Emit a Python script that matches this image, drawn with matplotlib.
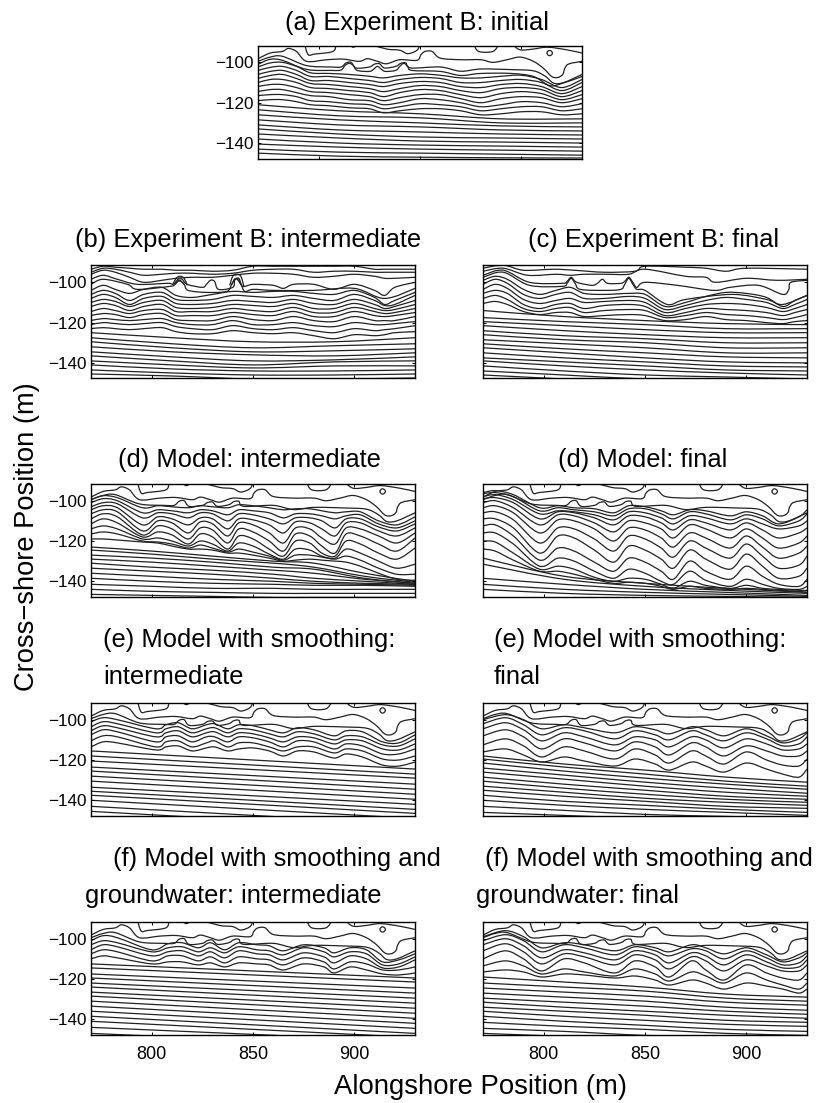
import matplotlib
matplotlib.use('Agg')
import matplotlib.pyplot as plt
from matplotlib.path import Path
from matplotlib.patches import PathPatch

plt.rcParams['font.family'] = ['Liberation Sans', 'DejaVu Sans']

W, H = 819, 1103

# ---- shared nearshore contours (same in a, d, e, f) ----
COAST_X = [770,776,782,785,789,794,804,812,820,824,829,833.5,840,848.5,850.5,852.5,856,860,870,880,886,893,899.5,906,911,915,918,920.5,921.5,923.5,930]
COAST_Y = [-98.2,-95.4,-94.6,-93.1,-94.6,-99.5,-98.7,-98.4,-99.5,-98.2,-99.5,-100.7,-98.7,-99,-96.2,-94.6,-94.6,-97.9,-98.7,-98.7,-100,-98.7,-97.4,-99.5,-103,-107,-107.5,-106,-103,-100.8,-99.5]
L2_X = [770,776,782,794,806,811,813.5,816,818.5,825,827.5,830,832.5,838,840.5,843,845.5,860,870,880,895,906,912,916,921,930]
L2_Y = [-99.5,-97.4,-97,-101.6,-102.3,-102.3,-100.3,-100,-102.8,-102.3,-100.9,-100.7,-102.8,-102,-100.5,-100.3,-102.8,-102.3,-104.4,-103.3,-103.6,-104.2,-107,-110.3,-110,-106]
TOP1_X = [793,794.8,798,807,808.5]
TOP1_Y = [-91,-96.2,-95.9,-94.6,-91]
TOP2_X = [825,833.5,840,844,848.5,850]
TOP2_Y = [-91,-93.4,-94,-95.7,-94,-91]
TOP3_X = [876.5,879,886,889]
TOP3_Y = [-91,-94.6,-94.6,-91]
TOP4_X = [895.5,899.5,906,913,922.5,930]
TOP4_Y = [-91,-93.8,-93.4,-92.5,-93.8,-95.4]
TOP5_X = [815,817,820]
TOP5_Y = [-91,-92.5,-91]
RING_X = [912.6,913.1,914,914.9,915.4,914.9,914,913.1,912.6]
RING_Y = [-95.4,-94.5,-94.1,-94.5,-95.4,-96.3,-96.7,-96.3,-95.4]

LOW5_X = [770,810,850,890,930]
ENDS_X = [770,930]

# ---- (a) ----
A3_X = [770,776,782,794,806,811,813,815,817,819,825,827,829,831,833,838,840,842,844,846,860,870,880,895,906,914,920,930]
A3_Y = [-101,-98.5,-99,-103.5,-104,-103.8,-101.5,-100.5,-101.5,-104,-104.5,-103.5,-102,-103.5,-104.5,-104,-102,-100.5,-102,-104,-104.5,-106.5,-105.5,-105.5,-107,-111.5,-110.5,-107]
A_X = [770,776,782,789,796,805,815,825,832,840,850,860,870,880,890,900,910,920,930]
A_WAVE = [
    [-102.3,-100.3,-100,-102,-105.2,-105.5,-106,-106.9,-107.7,-106.5,-105.7,-106.4,-107.7,-107.7,-106.9,-106.4,-108.5,-112.5,-108.5],
    [-104,-102.5,-102,-104,-107,-107,-108,-109,-110,-108.5,-107.5,-108,-110,-110,-109,-108.5,-110,-114,-110],
    [-106,-104.5,-104,-106,-109,-109,-110,-111,-112,-110.5,-109.5,-110,-112,-112.5,-111,-110.5,-112,-115.5,-112],
    [-108,-106.5,-106,-108,-110.5,-111,-112,-113,-114.5,-113,-111.5,-112,-114,-115,-113,-112.5,-113.5,-117,-114],
    [-110,-108.5,-108.5,-110,-112.5,-113,-114,-115,-117,-115,-113.5,-114,-116,-117.5,-115.5,-114.5,-115.5,-118.5,-116],
    [-112,-111,-111,-112.5,-114.5,-115,-116,-117,-119,-117.5,-116,-116,-118,-120,-118,-117,-117.5,-120,-118],
    [-114.5,-113.5,-113.5,-115,-116.5,-117,-118.5,-119,-121,-120,-118,-118.5,-120,-122,-121,-119.5,-120,-122,-120.5],
    [-116.5,-116,-116,-117,-119,-119.5,-120.5,-121,-123,-122,-120.5,-121,-122,-124,-123,-122,-122,-124,-123],
    [-119,-118.5,-118.5,-119.5,-121,-121.5,-122.5,-123,-125,-124,-123,-123,-124,-126,-125.5,-124.5,-124.5,-126,-125.5],
]
A_LOW = [
    [-121,-124,-125.5,-128,-128], [-123.5,-126.5,-127.5,-130,-130], [-126,-128.5,-130,-131.5,-132],
    [-128.5,-131,-132,-133.5,-134], [-131,-133.5,-134.5,-135.5,-136], [-133,-135.5,-137,-137.5,-138],
    [-135.5,-137.5,-139,-139.5,-140], [-138,-140,-141,-141.5,-142], [-140.5,-142,-143,-143.5,-144],
    [-143,-144.5,-145,-145.5,-146], [-145,-146.5,-147,-147.3,-147.4],
]

# ---- (b) intermediate ----
B_X = [770,776,782,789,796,805,812,820,830,840,850,860,870,880,890,900,910,915,920,930]
B_WAVE = [
    [-93.5,-92,-92.5,-93,-93.5,-93.5,-94,-94,-94.5,-94,-92,-92,-92,-92,-92,-92,-93.5,-93.5,-93.5,-93.5],
    [-95,-93,-93.5,-95,-96.5,-96,-95.5,-95.5,-96,-95.5,-94,-93.5,-93.5,-95,-94.5,-94.5,-95,-95,-95,-95],
    [-96,-94,-95,-97.5,-100,-99,-98,-97.5,-97.5,-96.5,-95.5,-95.5,-96,-97.5,-97,-96,-97,-98,-98,-97.5],
    [-104,-101.5,-103.5,-105.5,-103.5,-102.5,-106.5,-107.5,-106,-104.5,-105,-104.5,-104.5,-105.5,-106,-104,-107.5,-111,-109,-105],
    [-106,-104,-105.5,-109,-106,-105,-108.5,-109,-108.5,-106.5,-107,-107.5,-106.5,-108,-109,-106,-109,-111.5,-111,-106.5],
    [-108,-106,-107.5,-111,-108,-107,-110.5,-111,-110.5,-109,-109.5,-110,-108.5,-110.5,-111,-108.5,-111,-113,-112,-109],
    [-110,-108.5,-109.5,-112,-110,-109,-112.5,-113,-112.5,-111,-111.5,-112,-110.5,-113,-113,-110.5,-113,-114,-113.5,-111],
    [-112,-110.5,-111.5,-114,-112,-111,-114.5,-114.5,-114.5,-113,-114,-114.5,-112.5,-115,-115,-112.5,-114.5,-115.5,-115,-113],
    [-114.5,-113,-114,-115.5,-114,-113.5,-116.5,-116.5,-116.5,-115,-116,-116.5,-114.5,-117,-117,-114.5,-116.5,-117,-116.5,-115],
    [-116.5,-115.5,-116,-117.5,-116,-115.5,-118.5,-119,-119,-117,-118.5,-119,-117,-119,-119.5,-117,-119,-119,-119,-117],
    [-119,-118,-118.5,-119,-118.5,-118,-120,-121,-121,-119,-121,-121,-120,-121.5,-122,-120,-121,-121,-120.5,-119.5],
    [-121,-120,-120.5,-121,-120.5,-120,-122,-123,-123.5,-121.5,-123,-123.5,-122.5,-124,-125,-123,-124,-123.5,-123,-121.5],
    [-123,-122.5,-123,-123.5,-123,-122.5,-124.5,-125.5,-125.5,-124,-125,-125.5,-125,-126.5,-128,-126,-126.5,-126,-125,-124.5],
]
B_LOW = [
    [-125,-127.5,-129.5,-129.5,-127.5], [-127.5,-130.5,-132.5,-131.5,-130.5], [-129.5,-132.5,-134.5,-134,-133],
    [-132,-134.5,-136,-136.5,-135], [-134.5,-137,-139,-138.5,-137], [-136.5,-139,-141,-139.5,-139],
    [-139,-141,-142.5,-141.5,-141.5], [-141,-143,-144,-144,-143.5], [-143.5,-145,-146,-146,-145.5],
    [-145.5,-146.5,-148,-148,-147.5],
]
B1_X = [770,776,783,793,808,810.5,813,815,817.5,825,827,829,831,833,840,841,843,845,850,860,865,870,880,890,900,910,915,920,930]
B1_Y = [-98.5,-96.5,-98.5,-101,-100.5,-101,-98.5,-98.5,-101,-102.5,-101,-99,-99.5,-103.5,-102.5,-99,-98,-102,-101,-101.5,-103,-101,-101,-103.5,-101,-104,-106.5,-102.5,-100]
B2_X = [770,776,788,793,809,811.5,813.5,816,818,827,837,839.5,841.5,844,846,850,860,880,900,915,930]
B2_Y = [-101,-98.5,-101,-103.5,-102,-101,-99,-101,-104,-105,-104.5,-101,-98,-101,-104.5,-103.5,-104,-104,-103,-108,-103]
B_ARCH_X = [[810.5,812,814,816,817.5], [811.5,813,814.5,816], [838.5,840,842,844,845.5], [839.5,841,842.5,844]]
B_ARCH_Y = [[-101,-98,-97,-98,-101.5], [-101,-99.5,-99.5,-101], [-101.5,-97,-96,-97,-102], [-101,-98.5,-98.5,-101]]

# ---- (c) final ----
C_X = [770,776,782,790,798,806,813,820,830,842,850,860,870,880,890,900,910,918,924,930]
C_WAVE = [
    [-99,-97,-98.5,-103.5,-106,-104,-102.5,-105.5,-106,-105.5,-106,-112,-110,-107,-105,-105.5,-107.5,-112,-109,-106.5],
    [-101,-98.5,-100.5,-106,-108,-106,-105,-108,-108,-107,-108,-113.5,-111.5,-109,-107.5,-108.5,-110,-113,-111,-108.5],
    [-103.5,-101,-103,-108.5,-110.5,-109,-108,-110,-109.5,-109,-110,-115,-113,-111,-110.5,-111,-112.5,-114.5,-113,-111],
    [-105.5,-104,-105.5,-111,-113,-111,-110.5,-113,-111.5,-111,-112,-116.5,-115,-113,-113.5,-114,-115,-116.5,-115,-113.5],
    [-108,-106.5,-108.5,-113,-114.5,-113,-112.5,-115,-114,-113.5,-114,-117.5,-116.5,-115,-116,-116.5,-117.5,-118.5,-117.5,-116],
    [-110.5,-109.5,-111,-114.5,-116,-115,-115,-117,-116.5,-116,-116.5,-119,-118.5,-117,-118.5,-119,-120,-120.5,-119.5,-119],
]
C_LOW = [
    [-114,-117,-119,-120.5,-121], [-117.5,-119.5,-121,-123,-123], [-119.5,-121.5,-123.5,-125,-125],
    [-121.5,-124,-126,-127.5,-127.5], [-124,-126.5,-128,-130,-130], [-126,-128.5,-130,-132.5,-132.5],
    [-128.5,-130.5,-132.5,-135,-135], [-130.5,-133,-135,-137,-137.5], [-132.5,-135,-137.5,-139.5,-140],
    [-135,-137.5,-139.5,-141.5,-142], [-137.5,-139.5,-141.5,-143.5,-144], [-139,-141.5,-143.5,-145,-146],
    [-141.5,-144,-146,-147,-148], [-144,-146,-148,-149,-150], [-146,-148,-150,-151,-152],
]
C1_X = [770,780,790,805,815,830,845,850,870,880,890,900,930]
C1_Y = [-93,-91.5,-94,-93.5,-94,-95,-94.5,-92,-92.5,-93,-94.5,-93,-93.5]
C2_X = [770,780,792,806,813,820,831,842,850,870,880,885,900,915,930]
C2_Y = [-94.5,-93,-96.5,-96,-96.5,-96,-96,-96,-93.5,-97,-97.5,-100,-98,-99,-98.5]
C3_X = [770,780,793,809,811.5,813.5,815.5,818,824,826.5,829,831.5,838,840,842,844,846,850,866,884,892,906,918,921,922,930]
C3_Y = [-96.5,-94,-100,-100.5,-99.5,-97.5,-99.5,-100.5,-101.5,-100.5,-98.5,-100.5,-100.5,-99.5,-97.5,-100,-102.5,-100,-101.5,-104,-102.5,-101.5,-106,-103.5,-100,-99]
C4_X = [770,780,793,809,811.5,813.5,815.5,818,830,838,840,842,844,846,850,861,870,893,910,918,930]
C4_Y = [-97.5,-95,-101.5,-102,-100.5,-98,-100.5,-103.5,-104,-103.5,-101,-98,-101,-103.5,-104,-111,-108.5,-106,-108.5,-111,-106.5]

# ---- (d) model intermediate ----
D_X = [770,776,783,795.5,803,810,818,824,830,837.5,843,850,858,865,871,878,884,890.5,896,903,912,921,930]
D_WAVE = [
    [-99.5,-97.5,-98.5,-103.5,-102.5,-103,-103.5,-102.5,-103,-103.5,-102,-102.5,-103.5,-104.5,-104,-104,-105,-106,-105.5,-105.5,-110,-112,-108],
    [-101,-99,-100,-106,-104.5,-105,-106,-104.5,-105,-107,-104.5,-105,-106,-108.5,-106.5,-106.5,-107.5,-109,-107.5,-107,-111.5,-113.5,-110],
    [-103,-101,-101.5,-108.5,-106,-106.5,-108.5,-106,-106.5,-110,-106.5,-107,-109,-111.5,-108.5,-108.5,-110,-113.5,-109,-109,-113,-115,-111.5],
    [-104.5,-102.5,-103.5,-112,-108,-109,-112,-108.5,-109,-114,-109,-109.5,-112,-116,-110.5,-111,-114,-117.5,-111,-111,-115,-117.5,-113.5],
    [-106.5,-104.5,-105.5,-115,-110,-111,-116,-110.5,-111.5,-117.5,-111,-112,-116,-121,-113.5,-114,-118.5,-121.5,-113.5,-114,-117.5,-121,-116],
    [-109,-106.5,-108,-117,-112.5,-114,-119,-113.5,-114.5,-121,-114,-115.5,-120,-125,-116.5,-117.5,-122.5,-126,-116.5,-117.5,-121.5,-125,-118.5],
    [-111.5,-109,-111,-118,-115.5,-117,-121.5,-116.5,-118,-124,-117.5,-119,-124,-127.5,-120,-121,-126,-127.5,-120,-121.5,-126,-129,-123.5],
    [-114,-112.5,-114,-119,-118.5,-120,-122.5,-120,-121.5,-125,-121,-122.5,-126.5,-129,-124,-124.5,-127.5,-128.5,-124,-126,-130,-133.5,-131.5],
    [-116.5,-115.5,-116.5,-120,-120.5,-121.5,-123.5,-122,-123.5,-125.5,-124,-125.5,-127.5,-129.5,-127,-127,-128,-129,-127.5,-129.5,-133.5,-136.5,-136.5],
    [-119,-119,-119.5,-120.5,-121,-122.5,-124,-124,-124.5,-126,-126,-127,-128.5,-130,-129.5,-129,-129.5,-130,-130.5,-132.5,-136,-139,-139.5],
]
D_LOW_X = [770,800,830,860,880,905,930]
D_LOW = [
    [-123,-125,-127.5,-130,-131,-136,-140], [-124.5,-126.5,-129,-131,-133,-137.5,-140.5],
    [-127,-128.5,-130.5,-133,-134,-138.5,-141], [-129,-130.5,-132.5,-134.5,-136,-139,-141],
    [-131,-133,-134.5,-136.5,-138.5,-140,-141.5], [-133.5,-135,-136.5,-138.5,-140,-141,-141.5],
    [-136,-137.5,-139,-140,-141,-141.5,-142], [-138.5,-140,-141,-141.5,-142,-142,-142.5],
    [-141.5,-142.5,-143.5,-143.5,-144,-144,-144], [-144,-145,-145.5,-146,-146,-146,-146],
    [-146.5,-147,-147.5,-148,-148,-148,-148],
]

# ---- (d) model final ----
D2_X = [770,776,785,798,807,815,825,834.5,842,850,858,864,872,880,892,900,908,916,926,930]
D2_WAVE = [
    [-96,-95,-97,-103.5,-102.5,-103.5,-104,-106,-102.5,-103,-105,-107,-104.5,-105,-107.5,-105.5,-107.5,-111.5,-108,-104.5],
    [-96.5,-96,-98,-105,-103.5,-104.5,-105.5,-107.5,-104,-104,-106.5,-109,-105.5,-106.5,-109.5,-107,-109,-112.5,-110,-106.5],
    [-98,-97,-99.5,-106.5,-105,-105.5,-107,-109.5,-105.5,-106,-108.5,-111.5,-107.5,-108.5,-111.5,-109,-111.5,-114,-112.5,-110],
    [-99,-98.5,-101,-109,-105.5,-106,-108.5,-112,-107.5,-108,-111,-114.5,-109.5,-111,-114.5,-111,-114.5,-118.5,-116,-113.5],
    [-101,-100,-103.5,-112,-107,-107.5,-111,-115.5,-110,-111,-114,-118.5,-112,-114,-118.5,-114,-118.5,-123.5,-121,-117.5],
    [-103.5,-102.5,-106,-116,-109.5,-110,-114,-120,-113.5,-114.5,-118.5,-123,-116,-118.5,-123.5,-117.5,-123,-128.5,-126,-122.5],
    [-106,-105.5,-109.5,-121,-113.5,-114,-119,-125,-117.5,-119,-123.5,-128,-120,-123.5,-128.5,-121.5,-127.5,-133.5,-132,-127.5],
    [-109,-109,-113.5,-126,-117.5,-118.5,-124.5,-130.5,-122.5,-124.5,-129,-133.5,-124.5,-129,-134,-126.5,-132.5,-138.5,-137.5,-133.5],
    [-112.5,-112,-117.5,-129.5,-123.5,-125,-130.5,-135,-128.5,-130.5,-135,-139,-130,-135,-139,-132.5,-137.5,-141.5,-142.5,-139],
    [-116,-116,-121.5,-132.5,-128.5,-130,-135,-138.5,-134,-136,-140,-141.5,-135,-139.5,-142.5,-139,-141.5,-143.5,-144,-142.5],
    [-120,-120.5,-126,-134,-132.5,-134,-138,-140,-138.5,-139,-141.5,-143.5,-140,-142,-143.5,-142,-143.5,-144,-144.5,-144.5],
    [-124,-125,-129.5,-135,-135,-136.5,-139,-141,-140.5,-141,-142.5,-144,-142.5,-143.5,-144,-143.5,-144,-144.5,-145,-145.5],
]
D2_LOW = [
    [-128.5,-137.5,-141,-143.5,-145.5], [-131.5,-139,-142.5,-144.5,-146], [-138.5,-141.5,-144,-145.5,-147],
    [-141.5,-144,-145.5,-146.5,-147.5], [-144,-146,-147,-147.5,-148],
]

# ---- (e) smoothing intermediate ----
E_X = [770,776,783,802,807,813,820,827,831,837.5,843,850,858,865,872,880,890,896,904,914,922,930]
E_WAVE = [
    [-101,-99,-100,-104.5,-102.5,-101.5,-104.5,-102.5,-102,-104.5,-102.5,-103,-105,-106.5,-104,-105,-108,-105.5,-106,-111,-111.5,-107.5],
    [-103.5,-101,-102,-106.5,-104.5,-103.5,-106.5,-104.5,-104,-106.5,-104.5,-105,-107,-108.5,-106,-107,-110,-108,-108.5,-112.5,-113,-109.5],
    [-105.5,-103,-104,-108.5,-106.5,-105.5,-108.5,-106.5,-106,-108.5,-106.5,-107,-109,-111,-108.5,-109,-112,-110,-110.5,-114.5,-115,-112],
    [-107.5,-105,-106,-111,-108.5,-108,-111,-108.5,-108.5,-111,-108.5,-109,-111,-113.5,-110.5,-111,-114.5,-112,-113,-117,-117,-114.5],
    [-110.5,-108,-108.5,-113.5,-111,-110.5,-113.5,-111.5,-110.5,-113.5,-111.5,-111.5,-113.5,-115.5,-113.5,-113.5,-116.5,-114.5,-115.5,-119.5,-120,-118],
    [-113.5,-111,-111.5,-115,-113.5,-113,-115.5,-114,-113.5,-115.5,-114.5,-114,-115.5,-118,-115.5,-116,-119,-117,-118.5,-122.5,-123,-121],
]
E_LEFT = [-115.5,-118,-120.5,-123.5,-125.5,-128,-130.5,-133.5,-135.5,-137.5,-140,-143,-145.5]
E_RIGHT = [-124.5,-127,-129,-132,-134.5,-137,-139.5,-142,-144.5,-146.5,-149,-152,-154.5]

# ---- (e) smoothing final and (f) groundwater final share knots ----
F2_X = [770,781,790,799,810,820,835,845,855,862,873,880,889,900,910,918,926,930]
E2_WAVE = [
    [-100,-97.5,-100,-104.5,-102.5,-104,-106.5,-103.5,-105,-107,-103.5,-105,-108,-104.5,-108,-111.5,-109.5,-106.5],
    [-102,-99,-102.5,-107.5,-104,-105.5,-109.5,-105.5,-107.5,-110,-105.5,-107.5,-110.5,-106.5,-109.5,-113,-112,-108.5],
    [-104.5,-101.5,-105,-110.5,-106.5,-108.5,-112.5,-108.5,-110,-113.5,-108.5,-110,-114,-109.5,-112,-115,-114.5,-112],
    [-108,-105,-108.5,-114.5,-109.5,-111.5,-115.5,-111,-113.5,-117.5,-111.5,-113.5,-118,-113,-115.5,-118,-118,-115.5],
    [-112.5,-109.5,-113,-118.5,-113.5,-115.5,-119.5,-114.5,-117.5,-121.5,-115.5,-118,-122,-116,-120,-122.5,-123,-119.5],
    [-116,-114.5,-117.5,-121,-118.5,-120.5,-123,-119.5,-122,-125,-121,-123,-126,-121.5,-124.5,-127,-128.5,-124.5],
]
E2_LOW = [
    [-118,-122,-125,-128.5,-131], [-119.5,-123.5,-127,-130.5,-133], [-121.5,-125.5,-129,-132,-134.5],
    [-124,-127.5,-131,-134,-136.5], [-126,-129.5,-133,-136,-138], [-128.5,-132,-135,-138,-139.5],
    [-130.5,-134,-137,-139.5,-141], [-133,-136,-139,-141,-142.5], [-135,-138,-140.5,-143,-144],
    [-137.5,-140.5,-142.5,-144.5,-146], [-140,-142.5,-144.5,-146,-147.5], [-143,-145,-147,-148,-149],
    [-146,-147.5,-149,-150,-151],
]

# ---- (f) groundwater intermediate ----
F_X = [770,776,783,800,808,815,823,829,836,843,852,858,865,875,885,890,898,906,914,922,930]
F_WAVE = [
    [-101,-98.5,-99.5,-105.5,-102.5,-102,-104.5,-102,-105.5,-102,-103,-103.5,-106,-103,-104.5,-107,-104.5,-105.5,-111.5,-110.5,-107.5],
    [-103,-101,-102,-106.5,-104.5,-104,-106.5,-104.5,-107,-104,-105.5,-106,-108,-104.5,-106.5,-109,-106.5,-107.5,-113,-112.5,-109],
    [-105.5,-103,-104,-108.5,-106.5,-106,-108.5,-106.5,-109.5,-106,-107.5,-108,-110.5,-107,-109,-112,-108.5,-110,-114.5,-114,-110.5],
    [-107.5,-105.5,-106.5,-111,-108.5,-108.5,-111,-109,-112,-109,-110,-110.5,-113,-109.5,-111.5,-115,-111.5,-112.5,-115.5,-115.5,-114],
    [-110,-108.5,-109.5,-112.5,-111.5,-111.5,-113,-112,-114,-112,-112.5,-113,-115.5,-112.5,-114,-117,-114,-115.5,-117.5,-118,-117],
]
F_LEFT = [-112.5,-114.5,-117.5,-119.5,-122,-124,-126.5,-128.5,-131,-133.5,-136,-138.5,-141,-144,-147]
F_RIGHT = [-119.5,-121.5,-124.5,-127,-129.5,-132,-134.5,-137,-139.5,-142,-144.5,-147,-149,-151,-154]

F2_WAVE = [
    [-99,-96,-99,-104.5,-102,-103,-106,-103,-104.5,-106.5,-103,-104.5,-107.5,-104.5,-108,-111.5,-109.5,-107],
    [-101,-98,-101,-106.5,-103,-104.5,-108,-104,-106,-108.5,-105,-106,-110,-106,-109.5,-113,-112,-108.5],
    [-103,-100,-103.5,-109.5,-105.5,-107,-110.5,-106,-108,-112,-107,-108.5,-113,-108,-111.5,-114.5,-114,-110.5],
    [-106,-102.5,-106.5,-112.5,-107.5,-109,-113,-108,-110.5,-115,-109,-111,-116,-110.5,-113.5,-116,-116,-113],
    [-110,-106,-110,-116,-110,-112,-117,-111,-114,-119,-111,-115.5,-120.5,-113,-117,-119.5,-120.5,-117],
    [-113.5,-111,-113.5,-117.5,-115,-116.5,-118.5,-115,-117.5,-121,-116.5,-118.5,-122,-117,-120.5,-123,-125,-122],
    [-116.5,-115.5,-116.5,-119,-117.5,-118,-119.5,-118.5,-120.5,-123,-120.5,-122,-125,-122,-123.5,-125,-127,-125],
]
F2_LOW = [
    [-119,-121.5,-124,-127.5,-129], [-122,-124,-126,-129.5,-131], [-124.5,-126.5,-128.5,-131.5,-133],
    [-127,-129,-131,-134,-135.5], [-129.5,-131.5,-133.5,-136,-137.5], [-131.5,-134,-136,-138,-139.5],
    [-134,-136,-138,-140.5,-141.5], [-136,-138.5,-140.5,-142.5,-143.5], [-138.5,-141,-143,-145,-146],
    [-141.5,-143.5,-145,-147,-148], [-144.5,-146,-148,-149,-150], [-147,-148.5,-150,-151,-152],
]

XTICKS = [800, 850, 900]
YTICKS = [-100, -120, -140]


def smooth_line(ax, xs, ys):
    # curve through the read points, drawn as a bezier path
    n = len(xs)
    verts = [(xs[0], ys[0])]
    codes = [Path.MOVETO]
    for i in range(n - 1):
        a, b = max(i - 1, 0), min(i + 2, n - 1)
        verts.append((xs[i] + (xs[i + 1] - xs[a]) / 6, ys[i] + (ys[i + 1] - ys[a]) / 6))
        verts.append((xs[i + 1] - (xs[b] - xs[i]) / 6, ys[i + 1] - (ys[b] - ys[i]) / 6))
        verts.append((xs[i + 1], ys[i + 1]))
        codes += [Path.CURVE4, Path.CURVE4, Path.CURVE4]
    ax.add_patch(PathPatch(Path(verts, codes), fill=False, ec='#222222', lw=0.9))


def shared_top(ax, ring=True):
    for xs, ys in [(COAST_X, COAST_Y), (TOP1_X, TOP1_Y), (TOP2_X, TOP2_Y),
                   (TOP3_X, TOP3_Y), (TOP4_X, TOP4_Y), (TOP5_X, TOP5_Y)]:
        smooth_line(ax, xs, ys)
    if ring:
        smooth_line(ax, RING_X, RING_Y)


def make_axes(left, top, xlabels=False, ylabels=True, ylim=(-147.8, -91.7)):
    right, bottom = left + 324, top + 113
    ax = fig.add_axes([left / W, 1 - bottom / H, (right - left) / W, (bottom - top) / H])
    ax.set_xlim(770, 930)
    ax.set_ylim(*ylim)
    ax.set_xticks(XTICKS)
    ax.set_yticks(YTICKS)
    ax.tick_params(direction='in', top=True, right=True, length=2, width=0.7,
                   labelbottom=xlabels, labelleft=ylabels)
    ax.tick_params(axis='x', labelsize=13, pad=8)
    ax.tick_params(axis='y', labelsize=12.3, pad=3)
    for s in ax.spines.values():
        s.set_linewidth(1.0)
    return ax


def put_text(px, py, s, size=18.4, **kw):
    fig.text(px / W, 1 - py / H, s, fontsize=size, va='center', **kw)


fig = plt.figure(figsize=(W / 100, H / 100), dpi=100)

# (a)
ax = make_axes(258, 46, ylim=(-147.9, -91.9))
shared_top(ax)
smooth_line(ax, L2_X, L2_Y)
smooth_line(ax, A3_X, A3_Y)
for ys in A_WAVE:
    smooth_line(ax, A_X, ys)
for ys in A_LOW:
    smooth_line(ax, LOW5_X, ys)

# (b)
ax = make_axes(91, 265, ylim=(-147.5, -91.4))
for ys in B_WAVE:
    smooth_line(ax, B_X, ys)
smooth_line(ax, B1_X, B1_Y)
smooth_line(ax, B2_X, B2_Y)
for xs, ys in zip(B_ARCH_X, B_ARCH_Y):
    smooth_line(ax, xs, ys)
for ys in B_LOW:
    smooth_line(ax, LOW5_X, ys)

# (c)
ax = make_axes(483, 265, ylabels=False, ylim=(-147.5, -91.4))
for xs, ys in [(C1_X, C1_Y), (C2_X, C2_Y), (C3_X, C3_Y), (C4_X, C4_Y)]:
    smooth_line(ax, xs, ys)
for ys in C_WAVE:
    smooth_line(ax, C_X, ys)
for ys in C_LOW:
    smooth_line(ax, LOW5_X, ys)

# (d) left and right
ax = make_axes(91, 484)
shared_top(ax)
smooth_line(ax, L2_X, L2_Y)
for ys in D_WAVE:
    smooth_line(ax, D_X, ys)
for ys in D_LOW:
    smooth_line(ax, D_LOW_X, ys)

ax = make_axes(483, 484, ylabels=False)
shared_top(ax)
smooth_line(ax, L2_X, L2_Y)
for ys in D2_WAVE:
    smooth_line(ax, D2_X, ys)
for ys in D2_LOW:
    smooth_line(ax, LOW5_X, ys)

# (e) left and right
ax = make_axes(91, 703)
shared_top(ax)
smooth_line(ax, L2_X, L2_Y)
for ys in E_WAVE:
    smooth_line(ax, E_X, ys)
for y0, y1 in zip(E_LEFT, E_RIGHT):
    smooth_line(ax, ENDS_X, [y0, y1])

ax = make_axes(483, 703, ylabels=False)
shared_top(ax)
smooth_line(ax, L2_X, L2_Y)
for ys in E2_WAVE:
    smooth_line(ax, F2_X, ys)
for ys in E2_LOW:
    smooth_line(ax, LOW5_X, ys)

# (f) left and right
ax = make_axes(91, 922, xlabels=True)
shared_top(ax)
smooth_line(ax, L2_X, L2_Y)
for ys in F_WAVE:
    smooth_line(ax, F_X, ys)
for y0, y1 in zip(F_LEFT, F_RIGHT):
    smooth_line(ax, ENDS_X, [y0, y1])

ax = make_axes(483, 922, xlabels=True, ylabels=False)
shared_top(ax)
smooth_line(ax, L2_X, L2_Y)
for ys in F2_WAVE:
    smooth_line(ax, F2_X, ys)
for ys in F2_LOW:
    smooth_line(ax, LOW5_X, ys)

# titles
put_text(285, 23, '(a) Experiment B: initial')
put_text(75, 240, '(b) Experiment B: intermediate')
put_text(528, 240, '(c) Experiment B: final')
put_text(118, 460, '(d) Model: intermediate')
put_text(558, 460, '(d) Model: final')
put_text(103, 640, '(e) Model with smoothing:')
put_text(103, 677, 'intermediate')
put_text(494, 640, '(e) Model with smoothing:')
put_text(494, 677, 'final')
put_text(113, 859, '(f) Model with smoothing and')
put_text(85, 896, 'groundwater: intermediate')
put_text(485, 859, '(f) Model with smoothing and')
put_text(476, 896, 'groundwater: final')

put_text(27, 537, 'Cross\u2212shore Position (m)', size=19.6, rotation=90, ha='center')
put_text(480, 1087, 'Alongshore Position (m)', size=19.8, ha='center')

fig.savefig('out.png', dpi=100)
